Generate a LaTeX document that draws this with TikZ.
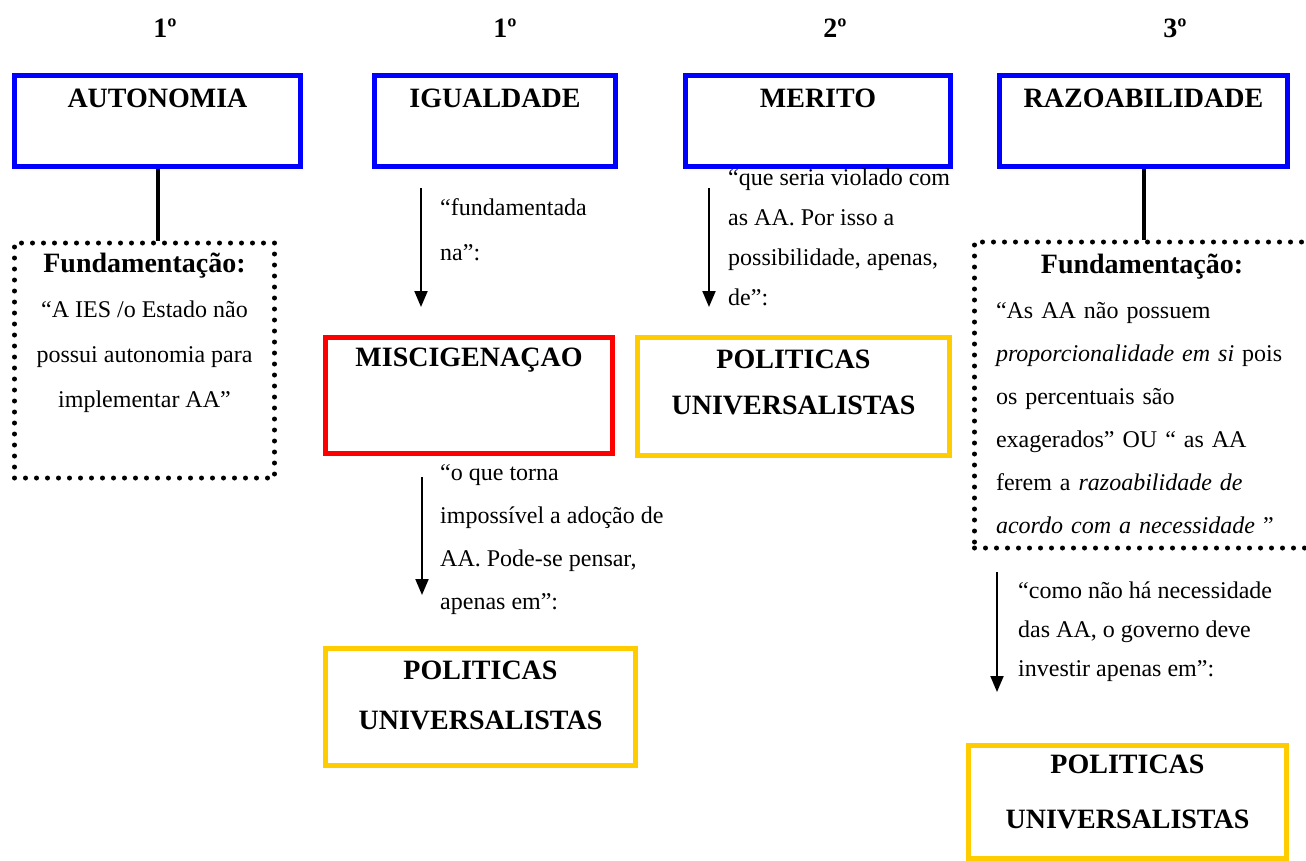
\documentclass[tikz,border=0pt]{standalone}
\usepackage{fontspec}
\setmainfont{Liberation Serif}
\usetikzlibrary{arrows.meta}
\definecolor{boxblue}{RGB}{0,0,255}
\definecolor{boxred}{RGB}{255,0,0}
\definecolor{boxgold}{RGB}{255,204,0}
\newcommand{\bigbold}{\bfseries\fontsize{28}{28}\selectfont}
\begin{document}
\begin{tikzpicture}[x=1pt,y=-1pt]
        \tikzstyle{every node}=[font=\fontsize{24}{43}\selectfont,inner sep=0pt]
        \tikzstyle{rank}=[anchor=base,font=\bigbold]
        \tikzstyle{principle}=[draw=boxblue,line width=5pt,anchor=north,text height=32pt,text depth=59pt,font=\bigbold]
        \tikzstyle{result}=[draw=boxgold,line width=5pt,anchor=north,align=center,font=\bfseries\fontsize{28}{50}\selectfont]
        \tikzstyle{reason}=[draw,line width=5pt,dash pattern=on 0pt off 11pt,line cap=round,anchor=north,align=center]
        \tikzstyle{note}=[anchor=base west,align=left]
        \tikzstyle{link}=[draw,line width=4pt]
        \tikzstyle{flow}=[draw,line width=2pt,-{Triangle[width=13pt,length=16pt]}]
        \useasboundingbox (0,0) rectangle (1306,860);
        % ordem
        \node [rank] (r1) at (165,37.5) {1º};
        \node [rank] (r2) at (505,37.5) {1º};
        \node [rank] (r3) at (835,37.5) {2º};
        \node [rank] (r4) at (1175,37.5) {3º};
        % principios
        \node [principle,minimum width=286pt] (auto) at (157.5,72.5) {AUTONOMIA};
        \node [principle,minimum width=241pt] (igual) at (495,72.5) {IGUALDADE};
        \node [principle,minimum width=265pt] (merito) at (818,72.5) {MERITO};
        \node [principle,minimum width=288pt] (razo) at (1143.5,72.5) {RAZOABILIDADE};
        % autonomia
        \node [reason,minimum width=260pt,text height=164.5pt,text depth=70.5pt,font=\fontsize{24}{45}\selectfont] (fundA) at (144.5,240.5)
          {{\bigbold Fundamentação:}\\“A IES /o Estado não\\possui autonomia para\\implementar AA”};
        \draw[link] (auto.south) -- (auto.south |- fundA.north);
        % igualdade
        \coordinate (fA1) at (421,188);
        \coordinate (fA2) at (421,307);
        \draw[flow] (fA1) -- (fA2);
        \node [note,font=\fontsize{24}{45}\selectfont] (nA) at (440,260) {“fundamentada\\na”:};
        \node [principle,draw=boxred,minimum width=287pt,text height=29.5pt,text depth=86.5pt] (misc) at (469,334.5) {MISCIGENAÇAO};
        \coordinate (fB1) at (422,477);
        \coordinate (fB2) at (422,595);
        \draw[flow] (fB1) -- (fB2);
        \node [note] (nB) at (440,609) {“o que torna\\impossível a adoção de\\AA. Pode-se pensar,\\apenas em”:};
        \node [result,minimum width=310pt,text height=81.5pt,text depth=35.5pt] (polA) at (480.5,645.5) {POLITICAS\\UNIVERSALISTAS};
        % merito
        \coordinate (fC1) at (709,188);
        \coordinate (fC2) at (709,307);
        \draw[flow] (fC1) -- (fC2);
        \node [note,font=\fontsize{24}{40}\selectfont] (nC) at (728,305) {“que seria violado com\\as AA. Por isso a\\possibilidade, apenas,\\de”:};
        \node [result,minimum width=312pt,text height=77.5pt,text depth=40.5pt,font=\bfseries\fontsize{28}{46}\selectfont] (polB) at (793.5,334.5) {POLITICAS\\UNIVERSALISTAS};
        % razoabilidade
        \begin{scope}
          \clip (0,0) rectangle (1306,860);
          \node [reason,minimum width=335pt,text width=292pt,text height=31.5pt,text depth=274.5pt] (fundR) at (1142,239.5)
            {{\bigbold Fundamentação:}\\[2pt]
             \makebox[292pt][s]{“As AA não possuem}\\
             \makebox[292pt][s]{\textit{proporcionalidade em si} pois}\\
             \makebox[292pt][s]{os percentuais são}\\
             \makebox[292pt][s]{exagerados” OU “ as AA}\\
             \makebox[292pt][s]{ferem a \textit{razoabilidade de}}\\
             \makebox[292pt][l]{\textit{acordo com a necessidade} ”}};
        \end{scope}
        \draw[link] (razo.south) -- (razo.south |- fundR.north);
        \coordinate (fD1) at (997,572);
        \coordinate (fD2) at (997,692);
        \draw[flow] (fD1) -- (fD2);
        \node [note,font=\fontsize{24}{39}\selectfont] (nD) at (1018,676) {“como não há necessidade\\das AA, o governo deve\\investir apenas em”:};
        \node [result,minimum width=318pt,text height=83.5pt,text depth=29.5pt,font=\bfseries\fontsize{28}{55}\selectfont] (polC) at (1127.5,742.5) {POLITICAS\\UNIVERSALISTAS};
\end{tikzpicture}
\end{document}
